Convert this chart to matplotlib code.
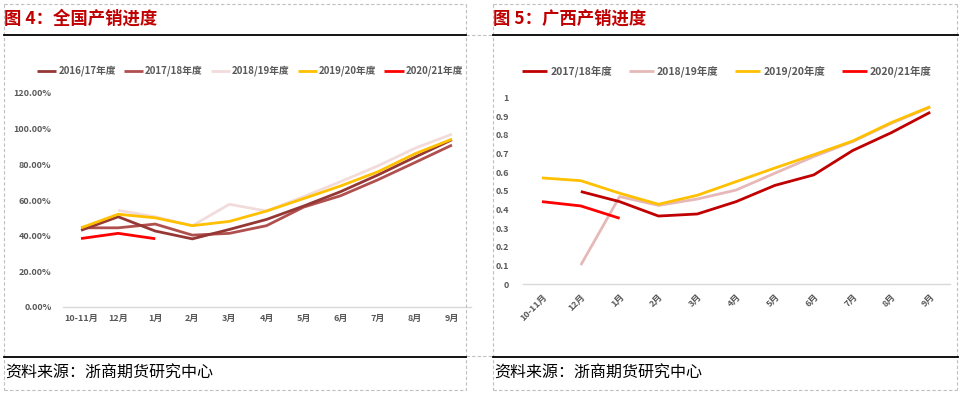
import matplotlib
matplotlib.use("Agg")
import matplotlib.pyplot as plt
from matplotlib.lines import Line2D
import numpy as np

plt.rcParams['font.family'] = ['Noto Sans CJK SC', 'DejaVu Sans']

# ---------------- data ----------------
months = ["10-11月", "12月", "1月", "2月", "3月", "4月", "5月", "6月", "7月", "8月", "9月"]

nat_1617 = [43.0, 50.6, 42.6, 38.2, 43.5, 49.1, 56.6, 64.7, 74.0, 84.0, 93.8]
nat_1718 = [44.4, 44.4, 46.5, 40.3, 41.3, 45.6, 56.0, 62.4, 71.3, 81.0, 90.8]
nat_1819 = [None, 54.2, 50.6, 45.6, 57.6, 53.8, 61.9, 70.3, 79.1, 89.0, 96.9]
nat_1920 = [44.4, 52.0, 50.0, 45.6, 48.0, 53.8, 60.8, 67.9, 75.8, 85.9, 94.1]
nat_2021 = [38.4, 41.3, 38.3, None, None, None, None, None, None, None, None]
nat_labels = ["2016/17年度", "2017/18年度", "2018/19年度", "2019/20年度", "2020/21年度"]
nat_yticks = [0, 20, 40, 60, 80, 100, 120]

gx_1718 = [None, 0.496, 0.442, 0.365, 0.376, 0.442, 0.529, 0.585, 0.715, 0.811, 0.920]
gx_1819 = [None, 0.103, 0.469, 0.422, 0.456, 0.504, 0.594, 0.683, 0.763, 0.861, 0.947]
gx_1920 = [0.569, 0.554, 0.487, 0.428, 0.476, 0.549, 0.622, 0.693, 0.766, 0.865, 0.950]
gx_2021 = [0.442, 0.419, 0.353, None, None, None, None, None, None, None, None]
gx_labels = ["2017/18年度", "2018/19年度", "2019/20年度", "2020/21年度"]
gx_yticks = [0, 0.1, 0.2, 0.3, 0.4, 0.5, 0.6, 0.7, 0.8, 0.9, 1.0]

titles = ["图 4：全国产销进度", "图 5：广西产销进度"]
source = "资料来源：浙商期货研究中心"

# ---------------- figure ----------------
W, H = 960, 393
fig = plt.figure(figsize=(W / 100, H / 100), dpi=100)


def fx(px):
    return px / W


def fy(py):
    return 1 - py / H


def hline(x0, x1, y, **kw):
    fig.add_artist(Line2D([fx(x0), fx(x1)], [fy(y), fy(y)], transform=fig.transFigure, **kw))


def vline(x, y0, y1, **kw):
    fig.add_artist(Line2D([fx(x), fx(x)], [fy(y0), fy(y1)], transform=fig.transFigure, **kw))


dash = dict(color="#BFBFBF", lw=0.8, ls=(0, (3, 2)))
# dashed panel borders
hline(4, 466, 4, **dash); hline(4, 466, 390, **dash)
vline(4, 4, 390, **dash); vline(466, 4, 390, **dash)
hline(466, 493, 35, **dash)
hline(493, 957, 4, **dash); hline(493, 957, 390, **dash)
vline(493, 4, 390, **dash); vline(957, 4, 390, **dash)
hline(466, 493, 356, **dash)

# solid black rules
hline(4, 466, 35, color="black", lw=1.3)
hline(493, 958, 35, color="black", lw=1.3)
hline(4, 466, 357, color="black", lw=1.3)
hline(493, 958, 357, color="black", lw=1.3)

# titles & footers
fig.text(fx(4), fy(19), titles[0], color="#C00000", fontsize=12.5, fontweight="bold", va="center", ha="left")
fig.text(fx(493), fy(19), titles[1], color="#C00000", fontsize=12.5, fontweight="bold", va="center", ha="left")
fig.text(fx(5), fy(373), source, color="black", fontsize=11.5, va="center", ha="left")
fig.text(fx(494), fy(373), source, color="black", fontsize=11.5, va="center", ha="left")

tick_color = "#595959"
x = np.arange(len(months))


def to_arr(v):
    return np.array([np.nan if a is None else a for a in v], dtype=float)


def style_axes(ax):
    for s in ["top", "right", "left"]:
        ax.spines[s].set_visible(False)
    ax.spines["bottom"].set_color("#D9D9D9")
    ax.spines["bottom"].set_linewidth(1.0)
    ax.tick_params(axis="both", length=0, colors=tick_color, labelsize=6.5)
    for lab in ax.get_xticklabels() + ax.get_yticklabels():
        lab.set_fontweight("bold")
    ax.set_facecolor("none")


# ---- left: national ----
ax1 = fig.add_axes([fx(62.5), fy(307), fx(470.5) - fx(62.5), fy(93) - fy(307)])
nat_series = [nat_1617, nat_1718, nat_1819, nat_1920, nat_2021]
nat_colors = ["#953735", "#B0504E", "#F2DCDB", "#FFC000", "#FF0000"]
order = [2, 1, 0, 3, 4]
handles = [None] * 5
for i in order:
    h, = ax1.plot(x, to_arr(nat_series[i]) / 100.0, color=nat_colors[i], lw=2.0,
                  label=nat_labels[i], solid_capstyle="butt")
    handles[i] = h
ax1.set_xlim(-0.5, len(months) - 0.5)
ax1.set_ylim(0, 1.2)
ax1.set_xticks(x)
ax1.set_xticklabels(months)
ax1.set_yticks([v / 100 for v in nat_yticks])
ax1.set_yticklabels([f"{v:.2f}%" for v in nat_yticks])
ax1.tick_params(axis="y", pad=8)
ax1.tick_params(axis="x", pad=5)
style_axes(ax1)
fig.legend(handles, nat_labels, loc="center", bbox_to_anchor=(fx(250), fy(71)), ncol=5,
           frameon=False, handlelength=2.0, handletextpad=0.2, columnspacing=0.8,
           prop=dict(size=7, weight="bold"), labelcolor=tick_color)

# ---- right: Guangxi ----
ax2 = fig.add_axes([fx(522.6), fy(284.3), fx(949.6) - fx(522.6), fy(97.3) - fy(284.3)])
gx_series = [gx_1718, gx_1819, gx_1920, gx_2021]
gx_colors = ["#C00000", "#E6B9B8", "#FFC000", "#FF0000"]
handles2 = [None] * 4
for i in [1, 0, 2, 3]:
    h, = ax2.plot(x, to_arr(gx_series[i]), color=gx_colors[i], lw=2.0,
                  label=gx_labels[i], solid_capstyle="butt")
    handles2[i] = h
ax2.set_xlim(-0.5, len(months) - 0.5)
ax2.set_ylim(0, 1.0)
ax2.set_xticks(x)
ax2.set_xticklabels(months, rotation=45, ha="right", rotation_mode="anchor")
ax2.set_yticks(gx_yticks)
ax2.set_yticklabels([f"{v:g}" for v in gx_yticks])
ax2.tick_params(axis="y", pad=10)
ax2.tick_params(axis="x", pad=6)
style_axes(ax2)
fig.legend(handles2, gx_labels, loc="center", bbox_to_anchor=(fx(727), fy(71)), ncol=4,
           frameon=False, handlelength=2.4, handletextpad=0.3, columnspacing=1.6,
           prop=dict(size=7.5, weight="bold"), labelcolor=tick_color)

fig.savefig("out.png", dpi=100)
